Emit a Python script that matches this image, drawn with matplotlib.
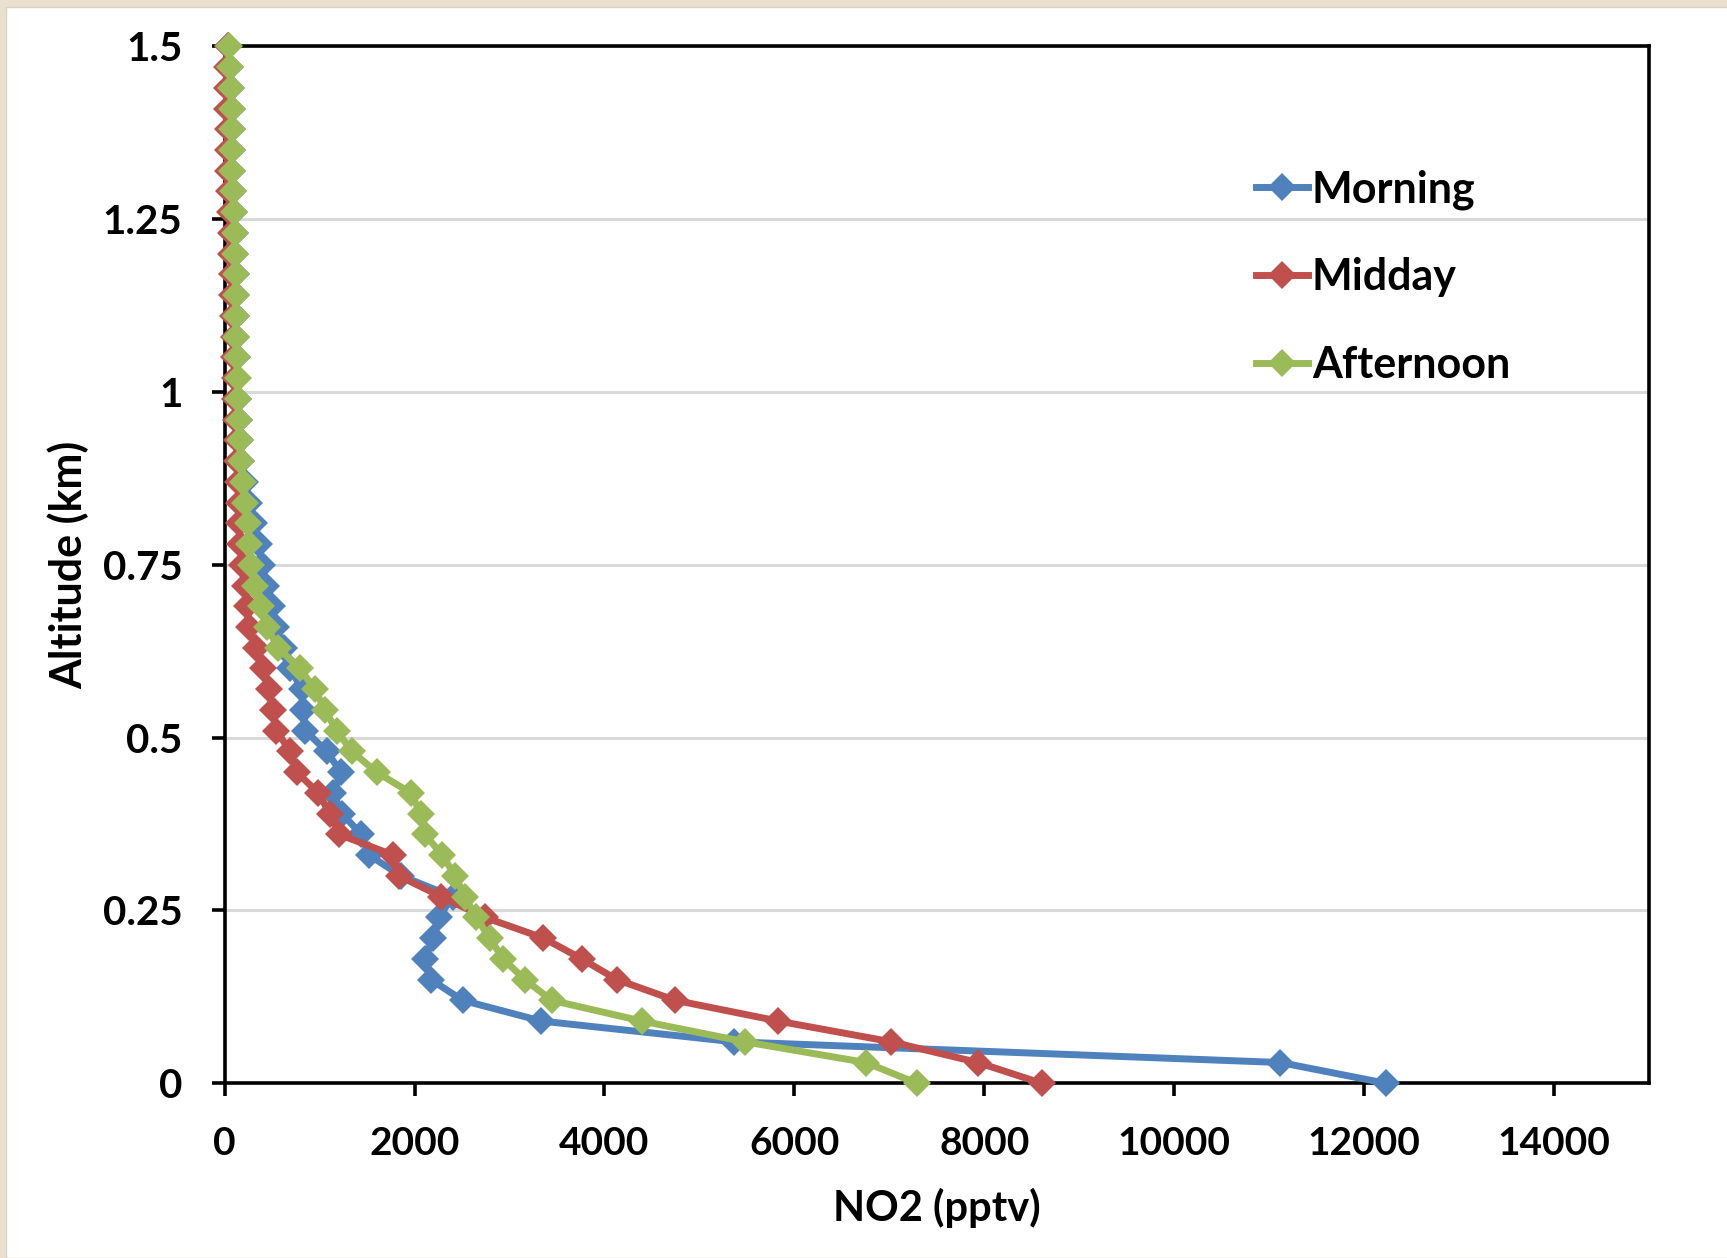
import matplotlib
matplotlib.use("Agg")
import matplotlib.pyplot as plt
from matplotlib.patches import Rectangle

# altitude levels (km), bottom to top
altitude = [0.00, 0.03, 0.06, 0.09, 0.12, 0.15, 0.18, 0.21, 0.24, 0.27,
            0.30, 0.33, 0.36, 0.39, 0.42, 0.45, 0.48, 0.51, 0.54, 0.57,
            0.60, 0.63, 0.66, 0.69, 0.72, 0.75, 0.78, 0.81, 0.84, 0.87,
            0.90, 0.93, 0.96, 0.99, 1.02, 1.05, 1.08, 1.11, 1.14, 1.17,
            1.20, 1.23, 1.26, 1.29, 1.32, 1.35, 1.38, 1.41, 1.44, 1.47, 1.50]

# NO2 (pptv)
morning = [12230, 11120, 5360, 3335, 2505, 2172, 2115, 2190, 2255, 2400,
           1860, 1520, 1440, 1235, 1145, 1225, 1075, 850, 820, 815,
           690, 620, 545, 500, 440, 390, 365, 305, 260, 215,
           175, 160, 150, 138, 135, 128, 120, 118, 118, 118,
           108, 105, 95, 85, 80, 78, 75, 72, 68, 58, 40]

midday = [8605, 7935, 7020, 5830, 4745, 4130, 3760, 3358, 2740, 2280,
          1835, 1775, 1205, 1110, 985, 760, 690, 545, 505, 465,
          400, 325, 258, 235, 210, 180, 165, 155, 150, 145,
          135, 125, 115, 110, 105, 100, 95, 90, 80, 77,
          70, 65, 60, 50, 40, 35, 30, 28, 28, 28, 30]

afternoon = [7290, 6755, 5478, 4392, 3443, 3161, 2932, 2791, 2650, 2527,
             2430, 2290, 2110, 2065, 1960, 1600, 1340, 1180, 1055, 950,
             790, 560, 450, 385, 320, 280, 258, 245, 212, 195,
             175, 165, 155, 140, 140, 130, 122, 122, 122, 122,
             112, 110, 98, 87, 82, 80, 78, 77, 70, 60, 42]

series_names = ["Morning", "Midday", "Afternoon"]
series_colors = ["#4F81BD", "#C0504D", "#9BBB59"]

x_ticks = [0, 2000, 4000, 6000, 8000, 10000, 12000, 14000]
y_ticks = [0, 0.25, 0.5, 0.75, 1.0, 1.25, 1.5]
y_ticklabels = ["0", "0.25", "0.5", "0.75", "1", "1.25", "1.5"]

plt.rcParams["font.family"] = ["Lato", "DejaVu Sans"]
plt.rcParams["font.weight"] = "bold"

fig = plt.figure(figsize=(17.27, 12.58), dpi=100)
fig.patch.set_facecolor("#E9E1CD")
# white slide area inside the beige frame
fig.patches.append(Rectangle((6 / 1727, 0), 1, 1 - 7 / 1258,
                             transform=fig.transFigure, facecolor="white",
                             edgecolor="#D8D2C4", linewidth=1, zorder=-10))

ax = fig.add_axes([0.1301, 0.1389, 0.8246, 0.8243])
ax.set_facecolor("none")

for vals, name, col, z in zip([morning, midday, afternoon], series_names,
                              series_colors, [3, 3.1, 3.2]):
    ax.plot(vals, altitude, color=col, linewidth=5, marker="D",
            markersize=14.5, markeredgewidth=0, label=name, zorder=z,
            clip_on=False, solid_joinstyle="round")

ax.set_xlim(0, 15000)
ax.set_ylim(0, 1.5)
ax.set_xticks(x_ticks)
ax.set_xticklabels([str(t) for t in x_ticks])
ax.set_yticks(y_ticks)
ax.set_yticklabels(y_ticklabels)

ax.grid(axis="y", color="#D9D9D9", linewidth=2.2, zorder=0)
ax.set_axisbelow(True)

for sp in ax.spines.values():
    sp.set_linewidth(2.6)
    sp.set_color("black")

ax.tick_params(axis="both", direction="out", length=9.5, width=2.6,
               labelsize=28, pad=21)
ax.tick_params(axis="y", labelsize=29, right=False)
ax.tick_params(axis="x", top=False)

ax.set_xlabel("NO2 (pptv)", fontsize=30, fontweight="bold")
ax.set_ylabel("Altitude (km)", fontsize=31, fontweight="bold")
ax.xaxis.set_label_coords(0.5, -0.101)
ax.yaxis.set_label_coords(-0.095, 0.5)

leg = ax.legend(loc="upper left", bbox_to_anchor=(0.709, 0.902), frameon=False,
                fontsize=31, handlelength=1.2, handletextpad=0.1,
                labelspacing=1.1, borderpad=0, numpoints=1)
for t in leg.get_texts():
    t.set_fontweight("bold")

fig.savefig("out.png", dpi=100)
